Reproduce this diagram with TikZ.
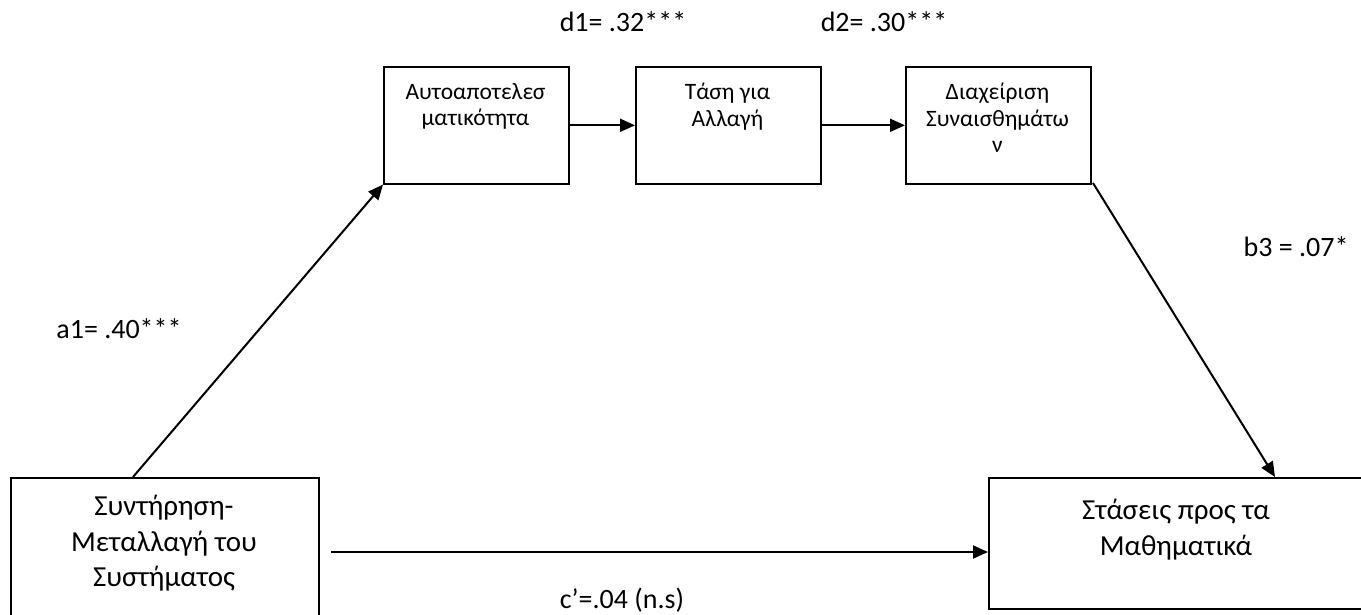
\documentclass[tikz,border=0pt]{standalone}
\usepackage{fontspec}
\setmainfont{Carlito}
\usetikzlibrary{arrows.meta}
\begin{document}
\begin{tikzpicture}[x=1pt,y=-1pt,
  box/.style={draw=black,line width=1.6pt,inner sep=0pt,anchor=north west},
  bigtxt/.style={font=\fontsize{29}{35.5}\selectfont,align=center,anchor=north,inner sep=0pt},
  smalltxt/.style={font=\fontsize{23.5}{26.5}\selectfont,align=center,anchor=north,inner sep=0pt},
  lbl/.style={font=\fontsize{28}{32}\selectfont,inner sep=0pt},
  arr/.style={line width=2pt,-{Triangle[length=15pt,width=13pt]}}]
\useasboundingbox (0,0) rectangle (1361,614);
\clip (0,0) rectangle (1361,614);
\fill[white] (0,0) rectangle (1361,614);
% boxes
\node[box,minimum width=185,minimum height=117] (se) at (383,66) {};
\node[box,minimum width=185,minimum height=117] (ta) at (635,66) {};
\node[box,minimum width=185,minimum height=117] (de) at (905,66) {};
\node[box,minimum width=308,minimum height=170] (sm) at (10,477) {};
\node[box,minimum width=376,minimum height=131] (st) at (988,477) {};
% texts
\node[smalltxt] (tse) at (475.5,83) {Αυτοαποτελεσ\\ματικότητα};
\node[smalltxt] (tta) at (727.5,83) {Τάση για\\Αλλαγή};
\node[smalltxt] (tde) at (997.5,83) {Διαχείριση\\Συναισθημάτω\\ν};
\node[bigtxt] (tsm) at (164,495) {Συντήρηση-\\Μεταλλαγή του\\Συστήματος};
\node[bigtxt] (tst) at (1176,499) {Στάσεις προς τα\\Μαθηματικά};
% labels
\node[lbl] (ld1) at (623,22) {d1= .32***};
\node[lbl] (ld2) at (884,22) {d2= .30***};
\node[lbl] (lb3) at (1296,247) {b3 = .07*};
\node[lbl] (la1) at (119,329) {a1= .40***};
\node[lbl] (lc) at (622,600) {c’=.04 (n.s)};
% connectors
\coordinate (a1s) at (133,477);
\coordinate (b3s) at (1093,183);
\coordinate (b3e) at (1275,477);
\coordinate (cs) at (331,552);
\draw[arr] (a1s) -- (se.south west);
\draw[arr] (se.east) -- (ta.west);
\draw[arr] (ta.east) -- (de.west);
\draw[arr] (b3s) -- (b3e);
\draw[arr] (cs) -- (st.west |- cs);
\end{tikzpicture}
\end{document}
